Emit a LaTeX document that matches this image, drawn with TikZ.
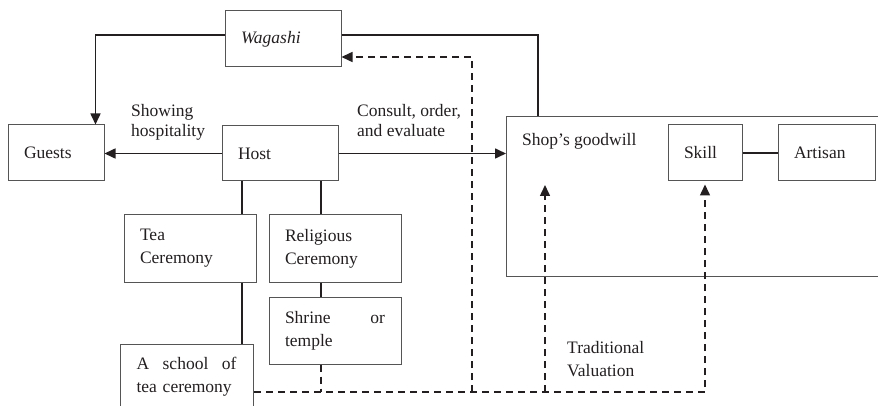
\documentclass[tikz,border=0pt]{standalone}
\usepackage{fontspec}
\setmainfont{Liberation Serif}
\usetikzlibrary{arrows.meta,calc}
\definecolor{ink}{HTML}{231F20}
\definecolor{boxline}{HTML}{555555}
\begin{document}
\begin{tikzpicture}[x=1pt,y=-1pt,
  txt/.style={font=\fontsize{17.5}{23}\selectfont, text=ink},
  box/.style={txt, draw=boxline, line width=1pt, inner xsep=16pt, inner ysep=0pt, align=left},
  conn/.style={draw=ink, line width=1.6pt},
  dconn/.style={draw=ink, line width=1.5pt, dash pattern=on 7pt off 5pt},
  arr/.style={-{Triangle[length=11pt,width=10pt]}},
  lbl/.style={txt, inner sep=0pt, align=left, anchor=north west, font=\fontsize{17.5}{20}\selectfont}
]
\useasboundingbox (0,0) rectangle (878,406);
\clip (0,0) rectangle (878,406);

% boxes
\node[box, minimum width=116pt, minimum height=56pt, text width=84pt] (wagashi) at (283,39) {\textit{Wagashi}};
\node[box, minimum width=96pt, minimum height=56pt, text width=64pt] (guests) at (56,153) {Guests};
\node[box, minimum width=116pt, minimum height=55pt, text width=84pt] (host) at (280,153.5) {Host};
\node[box, minimum width=400pt, minimum height=160pt, anchor=north west] (shop) at (506,116) {};
\node[txt, inner sep=0pt, anchor=base west] (goodwill) at (522,146) {Shop's goodwill};
\node[box, minimum width=74pt, minimum height=56pt, text width=42pt] (skill) at (705,153) {Skill};
\node[box, minimum width=97pt, minimum height=56pt, text width=65pt] (artisan) at (826.5,153) {Artisan};
\node[box, minimum width=132pt, minimum height=67pt, text width=100pt] (tea) at (190,248.5) {Tea\\Ceremony};
\node[box, minimum width=132pt, minimum height=67pt, text width=100pt] (relig) at (335,248.5) {Religious\\Ceremony};
\node[box, minimum width=132pt, minimum height=67pt, text width=100pt] (shrine) at (335,330.5) {\hbox to 100pt{Shrine\hfill or}\\temple};
\node[box, minimum width=133pt, minimum height=64pt, text width=101pt, anchor=north west] (school) at (120,344) {\hbox to 100pt{A\hfill school\hfill of}\\tea ceremony};

% labels
\node[lbl] (show) at (131,104) {Showing\\hospitality};
\node[lbl] (consult) at (357,104) {Consult, order,\\and evaluate};
\node[lbl, font=\fontsize{17.5}{23}\selectfont] (trad) at (567,341) {Traditional\\Valuation};

% coordinates
\coordinate (bl) at ([yshift=-48pt]school.north east);
\coordinate (b1) at (472,392);
\coordinate (b2) at (545,392);
\coordinate (gw) at (545,185);

% solid connectors
\draw[conn, arr] ([yshift=4pt]wagashi.west) -| ([xshift=-9pt]guests.north east);
\draw[conn] ([yshift=4pt]wagashi.east) -| ([xshift=32pt]shop.north west);
\draw[conn, arr] (host.west) -- (host.west -| guests.east);
\draw[conn, arr] (host.east) -- (host.east -| shop.west);
\draw[conn] (skill.east) -- (artisan.west);
\draw[conn] ([xshift=-38pt]host.south) -- ([xshift=-38pt]host.south |- tea.north);
\draw[conn] ([xshift=52pt]tea.south) -- ([xshift=52pt]tea.south |- school.north);
\draw[conn] ([xshift=41pt]host.south) -- ([xshift=41pt]host.south |- relig.north);
\draw[conn] ([xshift=-14pt]relig.south) -- ([xshift=-14pt]relig.south |- shrine.north);

% dashed connectors
\draw[dconn, arr] (bl) -| ([yshift=-3pt]skill.south);
\draw[dconn, arr] (b2) -- (gw);
\draw[dconn, arr] (b1) |- ([yshift=-18pt]wagashi.east);
\draw[dconn] ([xshift=-14pt]shrine.south) -- ([xshift=-14pt]shrine.south |- bl);
\end{tikzpicture}
\end{document}
